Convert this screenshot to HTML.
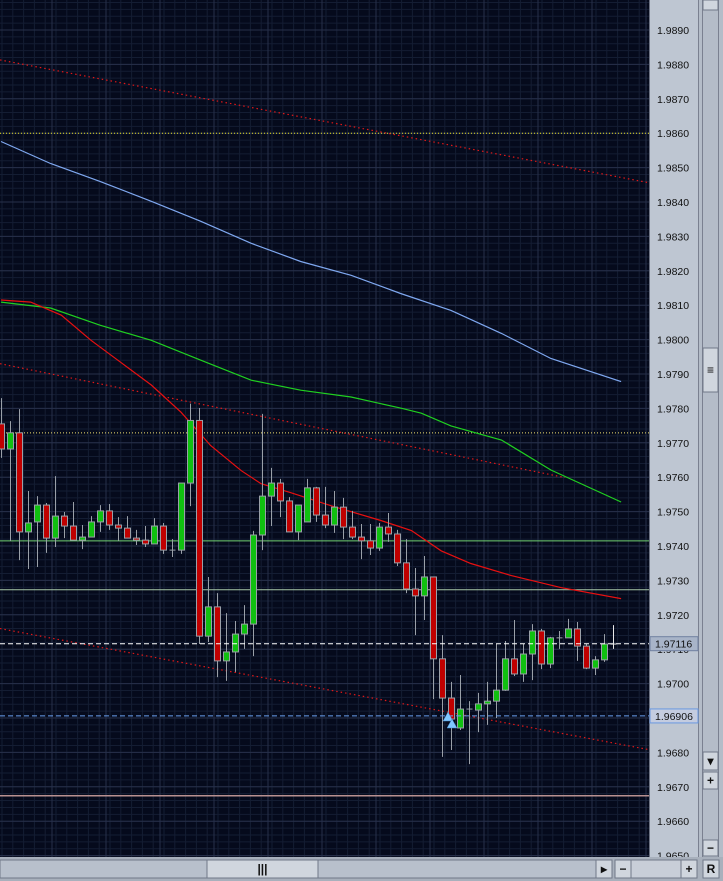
<!DOCTYPE html>
<html><head><meta charset="utf-8">
<style>
html,body{margin:0;padding:0;width:723px;height:881px;overflow:hidden;background:#a8b0bc;font-family:"Liberation Sans",sans-serif}
svg{display:block}
</style></head>
<body>
<svg id="chart" width="723" height="881" xmlns="http://www.w3.org/2000/svg"></svg>
<script>
const opens=[1.97755,1.97682,1.97729,1.97441,1.97470,1.97519,1.97423,1.97487,1.97458,1.97417,1.97426,1.97470,1.97502,1.97461,1.97452,1.97423,1.97417,1.97406,1.97458,1.97388,1.97388,1.97583,1.97765,1.97138,1.97223,1.97066,1.97092,1.97144,1.97173,1.97432,1.97545,1.97583,1.97531,1.97441,1.97470,1.97569,1.97490,1.97461,1.97513,1.97455,1.97426,1.97415,1.97394,1.97455,1.97435,1.97351,1.97275,1.97255,1.97310,1.97072,1.96958,1.96871,1.96926,1.96923,1.96941,1.96949,1.96981,1.97072,1.97028,1.97086,1.97153,1.97057,1.97133,1.97133,1.97159,1.97109,1.97045,1.97069,1.97115];
const highs=[1.97830,1.97763,1.97798,1.97560,1.97545,1.97525,1.97603,1.97499,1.97528,1.97461,1.97487,1.97519,1.97522,1.97484,1.97487,1.97447,1.97458,1.97481,1.97467,1.97420,1.97583,1.97814,1.97801,1.97310,1.97263,1.97205,1.97182,1.97228,1.97444,1.97784,1.97627,1.97595,1.97542,1.97519,1.97595,1.97572,1.97572,1.97560,1.97540,1.97502,1.97464,1.97464,1.97467,1.97496,1.97447,1.97420,1.97336,1.97371,1.97310,1.97141,1.97005,1.97025,1.96949,1.96973,1.97005,1.97115,1.97124,1.97185,1.97115,1.97173,1.97159,1.97136,1.97153,1.97188,1.97179,1.97115,1.97080,1.97144,1.97170];
const lows=[1.97656,1.97415,1.97359,1.97333,1.97339,1.97380,1.97397,1.97423,1.97417,1.97391,1.97426,1.97441,1.97447,1.97415,1.97423,1.97403,1.97397,1.97406,1.97377,1.97368,1.97377,1.97516,1.97115,1.97121,1.97019,1.97008,1.97034,1.97101,1.97080,1.97388,1.97458,1.97484,1.97441,1.97417,1.97470,1.97470,1.97452,1.97438,1.97420,1.97420,1.97362,1.97374,1.97386,1.97412,1.97342,1.97263,1.97141,1.97185,1.96955,1.96787,1.96807,1.96865,1.96766,1.96859,1.96880,1.96900,1.96979,1.97022,1.97005,1.97010,1.97042,1.97045,1.97101,1.97133,1.97066,1.97042,1.97025,1.97063,1.97101];
const closes=[1.97682,1.97729,1.97441,1.97467,1.97519,1.97423,1.97487,1.97458,1.97417,1.97426,1.97470,1.97502,1.97461,1.97452,1.97423,1.97417,1.97406,1.97458,1.97388,1.97388,1.97583,1.97765,1.97138,1.97223,1.97066,1.97092,1.97144,1.97173,1.97432,1.97545,1.97583,1.97531,1.97441,1.97519,1.97569,1.97490,1.97461,1.97513,1.97455,1.97426,1.97415,1.97394,1.97455,1.97435,1.97351,1.97275,1.97255,1.97310,1.97072,1.96958,1.96897,1.96926,1.96923,1.96941,1.96949,1.96981,1.97072,1.97028,1.97086,1.97153,1.97057,1.97133,1.97133,1.97159,1.97109,1.97045,1.97069,1.97115,1.97115];
const axisTicks=["1.9890","1.9880","1.9870","1.9860","1.9850","1.9840","1.9830","1.9820","1.9810","1.9800","1.9790","1.9780","1.9770","1.9760","1.9750","1.9740","1.9730","1.9720","1.9710","1.9700","1.9690","1.9680","1.9670","1.9660","1.9650"];
const maBlueIdx=[0,5.5,11,16.7,22.2,27.8,33.3,38.9,44.4,50,55.6,61.1,68.9];
const maBlue=[1.98576,1.98512,1.98460,1.98402,1.98344,1.98280,1.98227,1.98187,1.98134,1.98085,1.98018,1.97945,1.97878];
const maGreenIdx=[0,5.5,11,16.7,22.2,27.8,33.3,38.9,44.4,46.7,50,55.6,61.1,68.9];
const maGreen=[1.98109,1.98092,1.98042,1.97998,1.97940,1.97882,1.97853,1.97833,1.97801,1.97786,1.97749,1.97708,1.97621,1.97528];
const maRedIdx=[0,3.3,6.7,10,13.3,16.7,20,23.3,26.7,28.9,32.2,36.7,42.2,45.6,48.9,52.2,56.7,62.2,68.9];
const maRed=[1.98115,1.98109,1.98071,1.97998,1.97934,1.97868,1.97789,1.97692,1.97619,1.97581,1.97555,1.97517,1.97474,1.97445,1.97386,1.97349,1.97314,1.97279,1.97247];
const trendUpper=[1.98813,1.98456];
const trendMid=[1.97930,1.97599];
const trendLower=[1.97160,1.96808];
const levelYellow1=1.9860, levelYellow2=1.97729, levelGreen1=1.97415, levelGreen2=1.97273, levelBid=1.97116, levelBlue=1.96906, levelLow=1.96674;

const NS="http://www.w3.org/2000/svg";
const svg=document.getElementById('chart');
const PW=649, PH=857;
function y(p){return 30+(1.9890-p)*34400;}
function x(i){return 1+i*9;}
function el(tag,attrs,parent){const e=document.createElementNS(NS,tag);for(const k in attrs)e.setAttribute(k,attrs[k]);(parent||svg).appendChild(e);return e;}

const bg=el('rect',{x:0,y:0,width:PW,height:PH,fill:'#050a1c'});


const grid=el('g',{});


for(let gx=2;gx<PW;gx+=10.8){el('line',{x1:gx,y1:0,x2:gx,y2:PH,stroke:'#141d33','stroke-width':1},grid);}
for(let k=0;k<130;k++){const yy=y(1.9900-k*0.0002);if(yy>PH)break;el('line',{x1:0,y1:yy,x2:PW,y2:yy,stroke:'#141d33','stroke-width':1},grid);}
for(let gx=52;gx<PW;gx+=54){el('line',{x1:gx,y1:0,x2:gx,y2:PH,stroke:'#27304a','stroke-width':1},grid);}
for(let k=0;k<26;k++){const yy=y(1.9890-k*0.001);if(yy>PH)break;el('line',{x1:0,y1:yy,x2:PW,y2:yy,stroke:'#27304a','stroke-width':1},grid);}

function hline(p,color,dash,name,w){const l=el('line',{x1:0,y1:y(p),x2:PW,y2:y(p),stroke:color,'stroke-width':w||1});if(dash)l.setAttribute('stroke-dasharray',dash);return l;}
hline(levelYellow1,'#e8e020','1,2','yellow-level-1');
hline(levelYellow2,'#f0e070','1,2','yellow-level-2');
hline(levelGreen1,'#70d070','', 'green-level-1');
hline(levelGreen2,'#a8c8a8','', 'green-level-2');
hline(levelLow,'#b89090','', 'low-level',1.5);

function trend(arr,name,x2){const l=el('line',{x1:0,y1:y(arr[0]),x2:x2,y2:y(arr[1]),stroke:'#e01818','stroke-width':1.2,'stroke-dasharray':'1.5,3'});}
trend(trendUpper,'trendline-upper',PW);
trend(trendMid,'trendline-middle',565);
trend(trendLower,'trendline-lower',PW);

function ma(idx,vals,color,name){const d=idx.map((i,k)=>(k?'L':'M')+x(i).toFixed(1)+','+y(vals[k]).toFixed(1)).join(' ');const p=el('path',{d:d,fill:'none',stroke:color,'stroke-width':1.2});}
ma(maBlueIdx,maBlue,'#7fa8f0','moving-average-blue');
ma(maGreenIdx,maGreen,'#20d020','moving-average-green');
ma(maRedIdx,maRed,'#e81010','moving-average-red');

const cg=el('g',{});


for(let i=0;i<opens.length;i++){
  const cx=x(i)+0.5, o=opens[i], c=closes[i];
  const last=i===opens.length-1;
  const w=el('line',{x1:cx,y1:y(highs[i]),x2:cx,y2:y(lows[i]),stroke:last?'#e8e8e8':'#9aa0a8','stroke-width':1},cg);
  
  
  const top=y(Math.max(o,c)), bot=y(Math.min(o,c));
  let b;
  if(bot-top<1.5){b=el('line',{x1:cx-3,y1:top,x2:cx+3,y2:top,stroke:last?'#e8e8e8':'#9aa0a8','stroke-width':1},cg);}
  else b=el('rect',{x:cx-3,y:top,width:6,height:bot-top,fill:c>=o?'#10c010':'#c00000',stroke:'#9aa0a8','stroke-width':1},cg);
  
  
}
hline(levelBid,'#ffffff','5,3','bid-line');
hline(levelBlue,'#6aa0f0','5,3','blue-dashed-level');
const ar1=el('path',{d:'M448,712 L453,721 L443,721 Z',fill:'#80c8ff',stroke:'#4080c0','stroke-width':0.5});


const ar2=el('path',{d:'M452,719 L457,728 L447,728 Z',fill:'#80c8ff',stroke:'#4080c0','stroke-width':0.5});



const ax=el('rect',{x:649,y:0,width:50,height:PH,fill:'#bec6d2'});


el('line',{x1:649.5,y1:0,x2:649.5,y2:PH,stroke:'#6a7080'});
el('rect',{x:699,y:0,width:24,height:881,fill:'#b4bcc8'});
el('line',{x1:698.5,y1:0,x2:698.5,y2:881,stroke:'#7a8090'});
el('line',{x1:702.5,y1:0,x2:702.5,y2:881,stroke:'#7a8090'});
el('line',{x1:718.5,y1:0,x2:718.5,y2:881,stroke:'#7a8090'});
axisTicks.forEach(t=>{const yy=y(parseFloat(t))+4;if(yy>PH+6)return;const tx=el('text',{x:657,y:yy,'font-size':'10.5',fill:'#101010'});tx.textContent=t;});
function tag(p,border,name){const yy=y(p);el('rect',{x:650,y:yy-7,width:48,height:14,fill:border==='#6a98e0'?'#c4cce0':'#a8b4c8',stroke:border,'stroke-width':1});const t=el('text',{x:655,y:yy+4,'font-size':'10.5',fill:'#101010'});t.textContent=p.toFixed(5);}
tag(levelBid,'#7080a0','bid-price-tag');
tag(levelBlue,'#6a98e0','blue-level-tag');
function btn(bx,by,w,h,label,name){const r=el('rect',{x:bx,y:by,width:w,height:h,fill:'#d0d6de',stroke:'#707888','stroke-width':1});if(label){const t=el('text',{x:bx+w/2,y:by+h/2+4,'font-size':'12','font-weight':'bold','text-anchor':'middle',fill:'#101010'});t.textContent=label;}}
btn(703,0,15,10,'','vscroll-top');
btn(703,348,15,44,'≡','vscroll-thumb');
btn(703,752,15,18,'▾','vscroll-down');
btn(703,772,15,17,'+','zoom-in-vertical');
btn(703,840,15,16,'−','zoom-out-vertical');
el('rect',{x:0,y:857,width:723,height:24,fill:'#a8b0bc'});
el('rect',{x:0,y:860,width:612,height:18,fill:'#b8c0cc',stroke:'#707888'});
btn(207,860,111,18,'|||','hscroll-thumb');
btn(596,860,16,18,'▸','hscroll-right');
btn(615,860,16,18,'−','zoom-out-horizontal');
el('rect',{x:631,y:860,width:50,height:18,fill:'#c8ced8',stroke:'#707888'});
btn(681,860,16,18,'+','zoom-in-horizontal');
btn(703,860,16,18,'R','reset-button');
</script>
</body></html>
